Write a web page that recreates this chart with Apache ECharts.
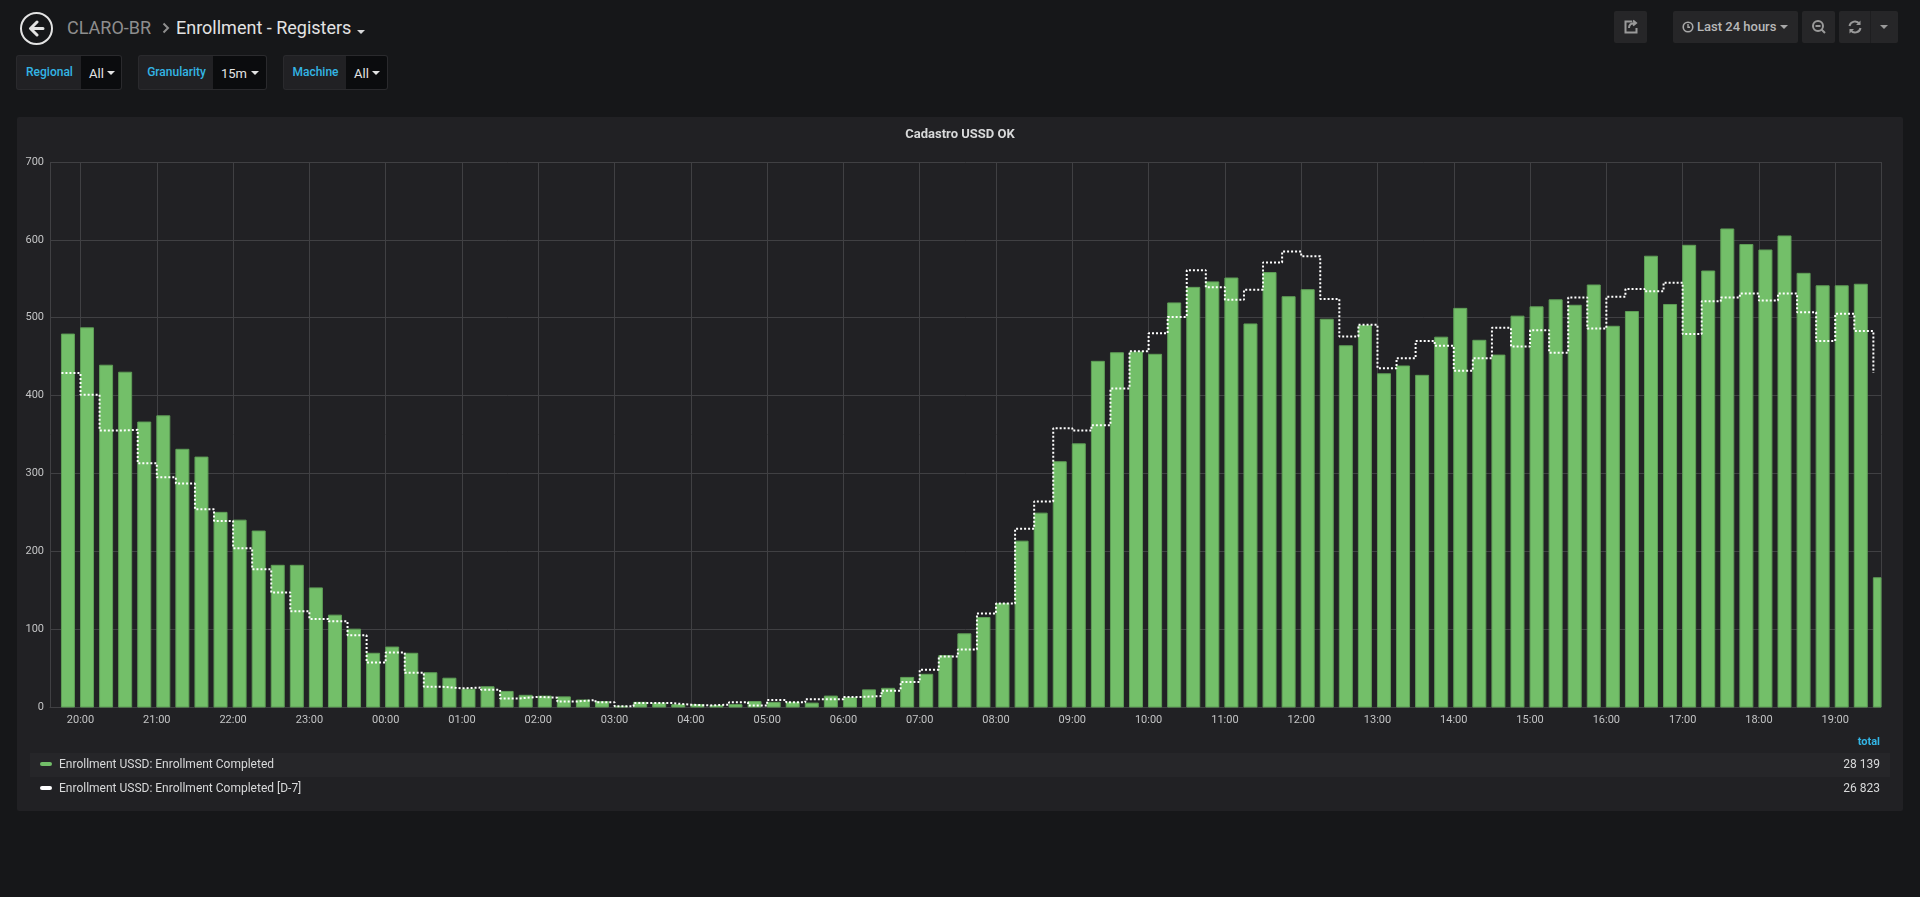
<!DOCTYPE html>
<html>
<head>
<meta charset="utf-8">
<title>Enrollment - Registers</title>
<script src="https://cdn.jsdelivr.net/npm/echarts@6/dist/echarts.min.js"></script>
<style>
html, body { margin: 0; padding: 0; width: 1920px; height: 897px; overflow: hidden; background: #161719; font-family: Roboto, "Noto Sans", sans-serif; }
.abs { position: absolute; }
.back { left: 20px; top: 12px; width: 29px; height: 29px; border: 2px solid #e3e3e3; border-radius: 50%; }
.back svg { position: absolute; left: 6px; top: 6px; }
.crumb { top: 17px; height: 22px; line-height: 22px; font-size: 18px; white-space: nowrap; }
.caret { width: 0; height: 0; border-left: 4px solid transparent; border-right: 4px solid transparent; border-top: 4px solid #e3e3e3; }
.varlabel { top: 55px; height: 33px; line-height: 33px; background: #212124; border: 1px solid #2a2a2d; border-right: none; border-radius: 3px 0 0 3px; color: #33b5e5; font-size: 12px; font-weight: 500; text-align: center; box-sizing: content-box; }
.varvalue { top: 55px; height: 35px; line-height: 35px; background: #0b0c0e; border: 1px solid #2a2a2d; border-left: none; border-radius: 0 3px 3px 0; color: #e3e3e3; font-size: 13px; padding-left: 8px; box-sizing: border-box; }
.varvalue .caret { position: absolute; top: 15px; border-top-color: #e3e3e3; }
.btn { top: 11px; height: 32px; background: #262628; border-radius: 2px; }
.btn svg { position: absolute; }
.panel { left: 17px; top: 117px; width: 1886px; height: 694px; background: #212124; border-radius: 2px; }
#chart { left: 17px; top: 117px; width: 1886px; height: 694px; }
.lg { font-size: 12px; color: #d8d9da; white-space: nowrap; height: 24px; line-height: 24px; }
.sw { width: 12px; height: 4px; border-radius: 2px; }
</style>
</head>
<body>
<!-- cabeçalho do painel -->
<div class="abs back">
  <svg width="17" height="17" viewBox="0 0 17 17"><path d="M9 2 L2.5 8.5 L9 15 M3 8.5 L15 8.5" stroke="#e3e3e3" stroke-width="3" fill="none" stroke-linecap="round" stroke-linejoin="round"/></svg>
</div>
<div class="abs crumb" style="left:67px;color:#8e8e8e;">CLARO-BR</div>
<svg class="abs" style="left:162px;top:22px;" width="8" height="12" viewBox="0 0 8 12"><path d="M1.5 1.5 L6 6 L1.5 10.5" stroke="#8e8e8e" stroke-width="2" fill="none"/></svg>
<div class="abs crumb" style="left:176px;color:#e3e3e3;">Enrollment - Registers</div>
<div class="abs caret" style="left:357px;top:30px;border-top-color:#d8d9da;"></div>

<!-- variáveis -->
<div class="abs varlabel" style="left:16px;width:65px;">Regional</div>
<div class="abs varvalue" style="left:81px;width:41px;">All<div class="caret" style="left:26px;"></div></div>
<div class="abs varlabel" style="left:138px;width:75px;">Granularity</div>
<div class="abs varvalue" style="left:213px;width:54px;">15m<div class="caret" style="left:38px;"></div></div>
<div class="abs varlabel" style="left:283px;width:63px;">Machine</div>
<div class="abs varvalue" style="left:346px;width:42px;">All<div class="caret" style="left:26px;"></div></div>

<!-- botões do topo -->
<div class="abs btn" style="left:1614px;width:33px;">
  <svg style="left:9px;top:8px;" width="16" height="16" viewBox="0 0 16 16"><path d="M9 2.5 H2.5 V13.5 H13.5 V9" stroke="#9a9a9a" stroke-width="2" fill="none"/><path d="M6 9 C6 5 9 4 12 4 M10 1.5 L13 4 L10 6.5" stroke="#9a9a9a" stroke-width="2" fill="none"/></svg>
</div>
<div class="abs btn" style="left:1673px;width:125px;">
  <svg style="left:9px;top:10px;" width="12" height="12" viewBox="0 0 12 12"><circle cx="6" cy="6" r="4.8" stroke="#a8a8a8" stroke-width="1.6" fill="none"/><path d="M6 3 V6.3 H8" stroke="#a8a8a8" stroke-width="1.4" fill="none"/></svg>
  <div class="abs" style="left:24px;top:0;height:32px;line-height:32px;font-size:13px;font-weight:500;color:#b8b8b8;">Last 24 hours</div>
  <div class="abs caret" style="left:107px;top:14px;border-top-color:#a8a8a8;"></div>
</div>
<div class="abs btn" style="left:1802px;width:33px;">
  <svg style="left:9px;top:8px;" width="16" height="16" viewBox="0 0 16 16"><circle cx="7" cy="7" r="5" stroke="#9a9a9a" stroke-width="2" fill="none"/><path d="M4.5 7 H9.5 M10.5 10.5 L14 14" stroke="#9a9a9a" stroke-width="2" fill="none"/></svg>
</div>
<div class="abs btn" style="left:1839px;width:59px;">
  <svg style="left:8px;top:8px;" width="16" height="16" viewBox="0 0 16 16"><path d="M2.5 7 A5.5 5.5 0 0 1 12.5 5 M13.5 9 A5.5 5.5 0 0 1 3.5 11" stroke="#9a9a9a" stroke-width="2" fill="none"/><path d="M13.5 1.5 V6 H9 Z M2.5 14.5 V10 H7 Z" fill="#9a9a9a"/></svg>
  <div class="abs" style="left:31px;top:0;width:1px;height:32px;background:#1e1e20;"></div>
  <div class="abs caret" style="left:41px;top:14px;border-top-color:#9a9a9a;"></div>
</div>

<div class="abs panel"></div>
<div class="abs" id="chart"></div>

<!-- legenda em tabela -->
<div class="abs lg" style="left:1820px;top:730px;width:60px;text-align:right;color:#33b5e5;font-weight:bold;font-size:11px;">total</div>
<div class="abs" style="left:30px;top:753px;width:1860px;height:24px;background:#262629;"></div>
<div class="abs sw" style="left:40px;top:762px;background:#73bf69;"></div>
<div class="abs lg" id="name0" style="left:59px;top:752px;"></div>
<div class="abs lg" id="total0" style="left:1780px;top:752px;width:100px;text-align:right;"></div>
<div class="abs sw" style="left:40px;top:786px;background:#ffffff;"></div>
<div class="abs lg" id="name1" style="left:59px;top:776px;"></div>
<div class="abs lg" id="total1" style="left:1780px;top:776px;width:100px;text-align:right;"></div>

<script>
// horários dos pontos (granularidade 15m, últimas 24 horas)
var times = [
	'19:45', '20:00', '20:15', '20:30', '20:45', '21:00', '21:15', '21:30',
	'21:45', '22:00', '22:15', '22:30', '22:45', '23:00', '23:15', '23:30',
	'23:45', '00:00', '00:15', '00:30', '00:45', '01:00', '01:15', '01:30',
	'01:45', '02:00', '02:15', '02:30', '02:45', '03:00', '03:15', '03:30',
	'03:45', '04:00', '04:15', '04:30', '04:45', '05:00', '05:15', '05:30',
	'05:45', '06:00', '06:15', '06:30', '06:45', '07:00', '07:15', '07:30',
	'07:45', '08:00', '08:15', '08:30', '08:45', '09:00', '09:15', '09:30',
	'09:45', '10:00', '10:15', '10:30', '10:45', '11:00', '11:15', '11:30',
	'11:45', '12:00', '12:15', '12:30', '12:45', '13:00', '13:15', '13:30',
	'13:45', '14:00', '14:15', '14:30', '14:45', '15:00', '15:15', '15:30',
	'15:45', '16:00', '16:15', '16:30', '16:45', '17:00', '17:15', '17:30',
	'17:45', '18:00', '18:15', '18:30', '18:45', '19:00', '19:15', '19:30'
];
// Enrollment Completed (barras)
var completed = [
	479, 487, 439, 430, 366, 374, 331, 321,
	250, 240, 226, 182, 182, 153, 118, 100,
	69, 77, 69, 44, 37, 23, 26, 20,
	15, 14, 13, 9, 7, 1, 6, 5,
	3, 3, 2, 3, 7, 6, 6, 5,
	14, 12, 22, 24, 38, 42, 66, 94,
	115, 133, 213, 249, 315, 338, 444, 455,
	456, 453, 519, 539, 546, 551, 492, 558,
	527, 536, 498, 464, 490, 428, 438, 426,
	475, 512, 471, 452, 502, 514, 523, 516,
	542, 489, 508, 579, 517, 593, 560, 614,
	594, 587, 605, 557, 541, 541, 543, 166
];
// Enrollment Completed [D-7] (linha pontilhada em degraus)
var completedD7 = [
	429, 401, 355, 356, 313, 295, 287, 254,
	239, 204, 177, 147, 123, 113, 110, 92,
	57, 70, 44, 26, 24, 25, 22, 11,
	13, 12, 7, 9, 6, 1, 5, 5,
	3, 2, 3, 6, 2, 9, 6, 10,
	10, 13, 14, 21, 32, 48, 65, 74,
	120, 133, 229, 264, 358, 355, 362, 409,
	457, 480, 501, 561, 539, 523, 536, 571,
	585, 579, 524, 476, 491, 435, 448, 470,
	464, 432, 448, 487, 463, 484, 455, 526,
	486, 527, 537, 534, 545, 479, 521, 526,
	531, 522, 531, 507, 470, 505, 483, 429
];
// nomes das séries e totais da legenda
var seriesNames = ['Enrollment USSD: Enrollment Completed', 'Enrollment USSD: Enrollment Completed [D-7]'];
var seriesTotals = ['28 139', '26 823'];
// eixo y
var yTicks = [0, 100, 200, 300, 400, 500, 600, 700];
// janela de tempo exibida
var rangeFrom = '19:36';
var rangeTo = '19:36';

var MIN = 60 * 1000;
var HOUR = 60 * MIN;
var DAY0 = new Date(2019, 2, 12, 0, 0, 0).getTime();

//converte 'HH:mm' em timestamp, virando o dia quando o horário volta
function toStamps(list) {
	var out = [];
	var day = 0;
	var last = -1;
	for (var i = 0; i < list.length; i++) {
		var p = list[i].split(':');
		var m = +p[0] * 60 + +p[1];
		if (m < last) day++;
		last = m;
		out.push(DAY0 + day * 24 * HOUR + m * MIN);
	}
	return out;
}
var stamps = toStamps(times);
var range = toStamps([rangeFrom, '00:00', rangeTo]);

//largura da barra em px; a barra do Grafana começa no horário do ponto
var BAR_PX = 13;
var BAR_COLOR = '#73bf69';
var BAR_BORDER = '#5f9e57';

function pad(n) { return n < 10 ? '0' + n : '' + n; }

//desenha cada barra alinhada à esquerda do seu horário
function renderBar(params, api) {
	var top = api.coord([api.value(0), api.value(1)]);
	var base = api.coord([api.value(0), 0]);
	var rect = echarts.graphic.clipRectByRect({
		x: top[0],
		y: top[1],
		width: BAR_PX,
		height: base[1] - top[1]
	}, {
		x: params.coordSys.x,
		y: params.coordSys.y,
		width: params.coordSys.width,
		height: params.coordSys.height
	});
	if (!rect) return;
	return {
		type: 'rect',
		shape: rect,
		style: { fill: BAR_COLOR, stroke: BAR_BORDER, lineWidth: 1 }
	};
}

var GRID = '#404043';
var TICK = '#c3c4c5';

var chart = echarts.init(document.getElementById('chart'));
chart.setOption({
	animation: false,
	backgroundColor: 'transparent',
	textStyle: { fontFamily: 'Roboto' },
	title: {
		text: 'Cadastro USSD OK',
		left: 'center',
		top: 6,
		textStyle: { color: '#d8d9da', fontSize: 13, fontWeight: 'bold', fontFamily: 'Roboto' }
	},
	grid: { left: 33, right: 22, top: 45, bottom: 104 },
	xAxis: {
		type: 'time',
		min: range[0],
		max: range[2],
		minInterval: HOUR,
		maxInterval: HOUR,
		axisLine: { show: true, lineStyle: { color: GRID, width: 1 } },
		axisTick: { show: false },
		splitLine: { show: true, lineStyle: { color: GRID, width: 1 } },
		axisLabel: {
			color: TICK,
			fontSize: 11,
			margin: 8,
			formatter: function(v) {
				var d = new Date(v);
				return pad(d.getHours()) + ':' + pad(d.getMinutes());
			}
		}
	},
	yAxis: {
		type: 'value',
		min: yTicks[0],
		max: yTicks[yTicks.length - 1],
		interval: yTicks[1] - yTicks[0],
		axisLine: { show: false },
		axisTick: { show: false },
		splitLine: { lineStyle: { color: GRID, width: 1 } },
		axisLabel: { color: TICK, fontSize: 11, margin: 6 }
	},
	series: [{
		name: seriesNames[0],
		type: 'custom',
		renderItem: renderBar,
		encode: { x: 0, y: 1 },
		data: stamps.map(function(t, i) { return [t, completed[i]]; })
	}, {
		name: seriesNames[1],
		type: 'line',
		step: 'end',
		symbol: 'none',
		z: 5,
		lineStyle: { color: '#ffffff', width: 2, type: [2, 2] },
		data: stamps.map(function(t, i) { return [t, completedD7[i]]; })
	}]
});

for (var k = 0; k < seriesNames.length; k++) {
	document.getElementById('name' + k).textContent = seriesNames[k];
	document.getElementById('total' + k).textContent = seriesTotals[k];
}
</script>
</body>
</html>
